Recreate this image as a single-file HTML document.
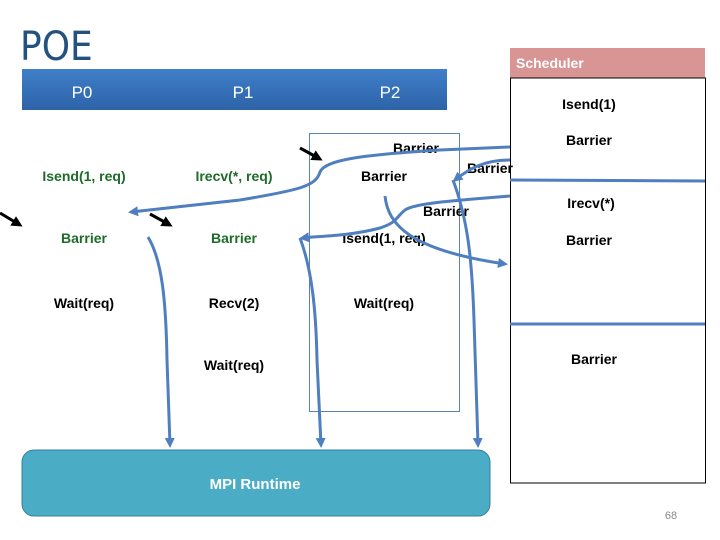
<!DOCTYPE html>
<html><head><meta charset="utf-8"><style>
html,body{margin:0;padding:0;background:#fff;}
svg{display:block;}
text{font-family:"Liberation Sans",sans-serif;}
</style></head><body>
<svg width="720" height="540" viewBox="0 0 720 540" xmlns="http://www.w3.org/2000/svg">
<defs>
<linearGradient id="g" x1="0" y1="0" x2="0" y2="1"><stop offset="0" stop-color="#3f7fc9"/><stop offset="1" stop-color="#2d63a8"/></linearGradient>
<marker id="ab" markerWidth="10" markerHeight="10" refX="7" refY="5" orient="auto" markerUnits="userSpaceOnUse"><path d="M0,0 L10,5 L0,10 Z" fill="#4f7fbf"/></marker>
<marker id="ak" markerWidth="11" markerHeight="11" refX="8" refY="5.5" orient="auto" markerUnits="userSpaceOnUse"><path d="M0,0 L11,5.5 L0,11 Z" fill="#000"/></marker>
</defs>
<text x="20" y="60" font-size="40" fill="#24527f" style="font-family:'DejaVu Sans Condensed','Liberation Sans Narrow',sans-serif">POE</text>
<rect x="22" y="69" width="425" height="41" fill="url(#g)"/>
<g fill="#fff" font-size="17" text-anchor="middle"><text x="82" y="98">P0</text><text x="243" y="98">P1</text><text x="390" y="98">P2</text></g>
<rect x="510" y="48" width="195" height="30" fill="#d99594"/>
<text x="516" y="68" fill="#fff" font-size="14" font-weight="bold">Scheduler</text>
<rect x="510.5" y="78" width="195" height="405" fill="none" stroke="#000" stroke-width="1"/>
<line x1="510" y1="180" x2="705" y2="181" stroke="#4f7fbf" stroke-width="3"/>
<line x1="510" y1="324" x2="705" y2="324" stroke="#4f7fbf" stroke-width="3"/>
<rect x="309.5" y="133.5" width="150" height="278" fill="none" stroke="#5b82b8" stroke-width="1"/>
<rect x="22" y="450" width="468" height="66" rx="12" fill="#4bacc6" stroke="#3a7fa0" stroke-width="1"/>
<text x="255" y="489" fill="#fff" font-size="15" font-weight="bold" text-anchor="middle">MPI Runtime</text>
<text x="671" y="519" fill="#888" font-size="11" text-anchor="middle">68</text>
<g font-size="14" font-weight="bold" text-anchor="middle">
<g fill="#1e6b2a"><text x="84" y="181">Isend(1, req)</text><text x="234" y="181">Irecv(*, req)</text><text x="84" y="243">Barrier</text><text x="234" y="243">Barrier</text></g>
<g fill="#000">
<text x="84" y="308">Wait(req)</text><text x="234" y="308">Recv(2)</text><text x="234" y="370">Wait(req)</text>
<text x="416" y="153">Barrier</text><text x="384" y="181">Barrier</text><text x="490" y="173">Barrier</text><text x="446" y="216">Barrier</text><text x="384" y="243">Isend(1, req)</text><text x="384" y="308">Wait(req)</text>
<text x="589" y="109">Isend(1)</text><text x="589" y="145">Barrier</text><text x="591" y="208">Irecv(*)</text><text x="589" y="245">Barrier</text><text x="594" y="364">Barrier</text>
</g></g>
<g fill="none" stroke="#4f7fbf" stroke-width="3">
<path d="M510,147 L440,150 C360,155 325,160 320,172 C316,186 300,190 240,200 L131,212" marker-end="url(#ab)"/>
<path d="M510,160 C485,160 470,168 455,180" marker-end="url(#ab)"/>
<path d="M453,180 C468,220 472,260 474,320 L478,445" marker-end="url(#ab)"/>
<path d="M510,196 C460,200 415,203 405,210 C395,218 398,222 380,228 C350,236 320,236 302,238" marker-end="url(#ab)"/>
<path d="M300,238 C312,270 316,310 317,360 L321,445" marker-end="url(#ab)"/>
<path d="M385,196 C388,225 410,250 505,264" marker-end="url(#ab)"/>
<path d="M148,237 C162,260 166,300 167,360 L170,445" marker-end="url(#ab)"/>
</g>
<g stroke="#000" stroke-width="3">
<line x1="0" y1="213" x2="20" y2="225" marker-end="url(#ak)"/>
<line x1="150" y1="214" x2="170" y2="225" marker-end="url(#ak)"/>
<line x1="300" y1="148" x2="320" y2="159" marker-end="url(#ak)"/>
</g>
</svg>
</body></html>
